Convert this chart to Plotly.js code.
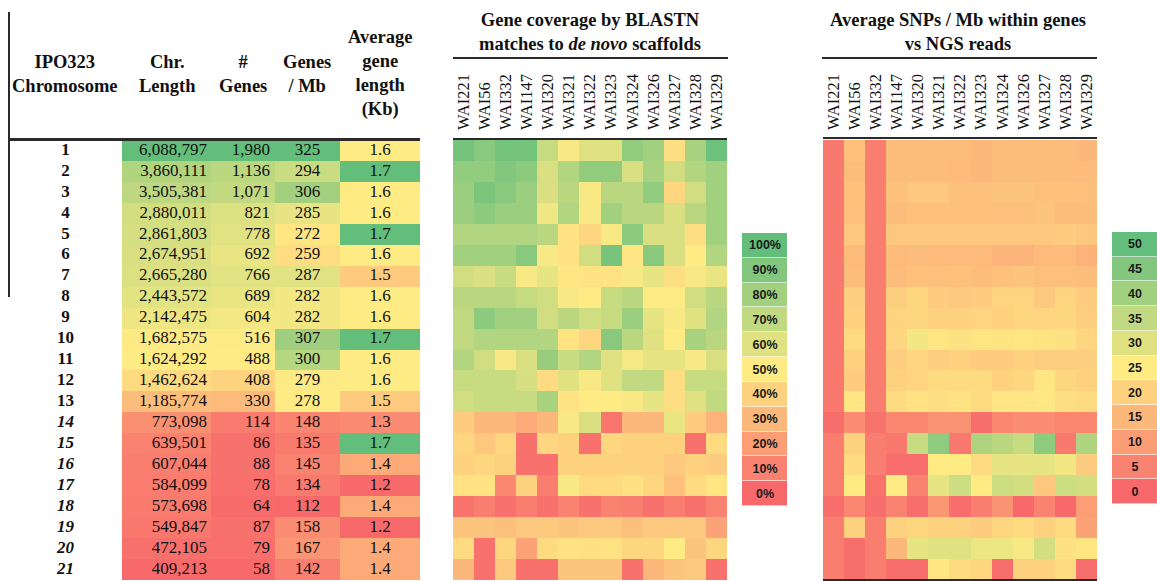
<!DOCTYPE html>
<html>
<head>
<meta charset="utf-8">
<script src="https://cdn.plot.ly/plotly-3.0.1.min.js"></script>
<style>html,body{margin:0;padding:0;background:#fff;}#chart{width:1157px;height:581px;}</style>
</head>
<body>
<div id="chart"></div>
<script>
// ---------------- DATA ----------------
const chromosomes = ['1','2','3','4','5','6','7','8','9','10','11','12','13','14','15','16','17','18','19','20','21'];
const dispensable = ['14','15','16','17','18','19','20','21'];
const chrLength = [6088797,3860111,3505381,2880011,2861803,2674951,2665280,2443572,2142475,1682575,1624292,1462624,1185774,773098,639501,607044,584099,573698,549847,472105,409213];
const numGenes = [1980,1136,1071,821,778,692,766,689,604,516,488,408,330,114,86,88,78,64,87,79,58];
const genesPerMb = [325,294,306,285,272,259,287,282,282,307,300,279,278,148,135,145,134,112,158,167,142];
const avgGeneLength = [1.6,1.7,1.6,1.6,1.7,1.6,1.5,1.6,1.6,1.7,1.6,1.6,1.5,1.3,1.7,1.4,1.2,1.4,1.2,1.4,1.4];

const strains = ['WAI221','WAI56','WAI332','WAI147','WAI320','WAI321','WAI322','WAI323','WAI324','WAI326','WAI327','WAI328','WAI329'];

// Gene coverage (%) by BLASTN matches to de novo scaffolds (rows = chromosomes, cols = strains)
const coverage = [
[95,88,95,95,68,52,60,60,85,80,45,78,97],
[85,85,90,87,62,75,85,85,62,78,65,75,80],
[82,92,88,82,62,72,52,72,72,85,42,65,80],
[82,87,82,82,55,75,52,80,72,72,62,72,80],
[75,75,75,75,72,47,42,52,87,62,62,45,80],
[80,80,80,88,52,47,65,93,48,88,62,50,75],
[65,62,68,52,58,48,47,47,52,58,45,52,57],
[72,72,72,68,65,52,50,68,72,50,50,65,72],
[70,87,80,80,65,72,65,68,82,58,52,60,75],
[70,75,75,75,75,47,42,88,72,60,50,78,72],
[75,65,52,62,83,68,75,60,53,58,58,52,62],
[68,68,68,63,44,60,52,60,70,70,45,68,68],
[65,68,68,68,78,47,50,50,52,58,45,60,70],
[38,30,30,25,30,52,62,5,30,30,57,38,28],
[42,36,42,3,42,40,3,42,40,40,40,3,44],
[40,42,40,3,3,40,40,40,40,40,37,40,38],
[47,47,12,40,8,52,44,44,46,42,34,44,48],
[4,8,3,8,3,10,3,10,8,3,8,3,10],
[35,35,33,37,37,35,37,37,33,37,37,37,22],
[44,3,42,22,44,47,46,47,42,42,50,35,42],
[30,3,37,3,3,35,35,35,3,30,35,37,3]
];

// Average SNPs / Mb within genes vs NGS reads
const snps = [
[3,17,4,16,16,16,16,15,16,16,16,16,15],
[3,16,4,16,16,16,15.5,15,16,16,16,16,16],
[3,17,4,17,18,18,17,16.5,17.5,17.5,17,17,16.5],
[3,16.5,4,16,17,17,17,17,16.5,16.5,17.5,16,16],
[3,18,4,18,18,18,18,18,18,18,18,19,18],
[3,15.5,4,15.5,16,15.5,15.5,15.5,14.5,14.5,15.5,15.5,14],
[3,16,4,16,17,16.5,17,16,17,17.5,16.5,16.5,16],
[3,19.5,4,19.5,21,19,18.5,19,20.5,20.5,18.5,20.5,19],
[3,20,4,20.5,21,20,20,20.5,20,21,20.5,21,19.5],
[3,22,4,21,27,24,23,24,23.5,24,23.5,23,21],
[3,20,4,19.5,20.5,19.5,20,19,19,20,19.5,19.5,19.5],
[3,19,4,20,20.5,22,22,22,20,21,24,21,20],
[3,24,4,22,23.5,22.5,23.5,22,24,24,24.5,22.5,22],
[1,7,2,6,6,8,8,1,6,7,7,6,6],
[4,20,4,3,34,43,3,38,36,34,43,3,38],
[4,22,4,1,1,25,25,22,29,29,29,27,19],
[4,25,2,25,5,29,33,25,33,32,18,33,32],
[1,6,1,5,1,9,1,4,8,0,5,0,10],
[4,20,4,20,21,20,20,19,21,22,20,22,11],
[4,1,4,15,29,30,30,28,28,26,32,23,24],
[4,1,4,1,1,24,22,21,1,20,20,22,1]
];

const coverageLegendValues = [100,90,80,70,60,50,40,30,20,10,0];
const coverageLegendLabels = ['100%','90%','80%','70%','60%','50%','40%','30%','20%','10%','0%'];
const snpLegendValues = [50,45,40,35,30,25,20,15,10,5,0];
const snpLegendLabels = ['50','45','40','35','30','25','20','15','10','5','0'];

// ---------------- STYLE / LAYOUT ----------------
const W = 1157, H = 581;
const px = v => v / W;
const py = v => 1 - v / H;
const RED = '#F8696B', YEL = '#FFEB84', GRN = '#63BE7B';
const SERIF = 'Liberation Serif, Times New Roman, serif';

function excelScale(values) {
  const s = [...values].sort((a, b) => a - b);
  const min = s[0], max = s[s.length - 1], med = s[Math.floor(s.length / 2)];
  return {cs: [[0, RED], [(med - min) / (max - min), YEL], [1, GRN]], zmin: min, zmax: max};
}
const fixedScale = [[0, RED], [0.5, YEL], [1, GRN]];

const rowIdx = chromosomes.map((c, i) => i + 1);
const col = arr => arr.map(v => [v]);

const traces = [];
// table colour columns
const tableCols = [
  {vals: chrLength, axis: 'x2', fmt: v => v.toLocaleString('en-US'), tx: 0.955, pos: 'middle left'},
  {vals: numGenes, axis: 'x3', fmt: v => v.toLocaleString('en-US'), tx: 0.92, pos: 'middle left'},
  {vals: genesPerMb, axis: 'x4', fmt: v => String(v), tx: 0.5, pos: 'middle center'},
  {vals: avgGeneLength, axis: 'x5', fmt: v => v.toFixed(1), tx: 0.5, pos: 'middle center'}
];
tableCols.forEach(c => {
  const sc = excelScale(c.vals);
  traces.push({type: 'heatmap', xaxis: c.axis, yaxis: 'y', x: [0.5], y: rowIdx, z: col(c.vals),
    colorscale: sc.cs, zmin: sc.zmin, zmax: sc.zmax, showscale: false, hoverinfo: 'z'});
  traces.push({type: 'scatter', mode: 'text', xaxis: c.axis, yaxis: 'y', x: c.vals.map(() => c.tx), y: rowIdx,
    text: c.vals.map(c.fmt), textposition: c.pos, cliponaxis: false, hoverinfo: 'skip',
    textfont: {family: SERIF, size: 17, color: '#111'}});
});
// chromosome labels
traces.push({type: 'scatter', mode: 'text', xaxis: 'x', yaxis: 'y', x: chromosomes.map(() => 0.5), y: rowIdx,
  text: chromosomes.map(c => dispensable.includes(c) ? '<b><i>' + c + '</i></b>' : '<b>' + c + '</b>'),
  textposition: 'middle center', cliponaxis: false, hoverinfo: 'skip',
  textfont: {family: SERIF, size: 17, color: '#111'}});
// heatmaps
traces.push({type: 'heatmap', xaxis: 'x6', yaxis: 'y', x: strains, y: rowIdx, z: coverage,
  colorscale: fixedScale, zmin: 0, zmax: 100, showscale: false});
traces.push({type: 'heatmap', xaxis: 'x7', yaxis: 'y', x: strains, y: rowIdx, z: snps,
  colorscale: fixedScale, zmin: 0, zmax: 50, showscale: false});
// legends
const legFont = {family: 'Liberation Sans, Arial, sans-serif', size: 12.5, color: '#1a1a1a', weight: 'bold'};
traces.push({type: 'heatmap', xaxis: 'x8', yaxis: 'y2', x: [0], y: coverageLegendValues.map((v, i) => i),
  z: col(coverageLegendValues), text: col(coverageLegendLabels), texttemplate: '%{text}', textfont: legFont,
  colorscale: fixedScale, zmin: 0, zmax: 100, showscale: false, xgap: 0, ygap: 0.6});
traces.push({type: 'heatmap', xaxis: 'x9', yaxis: 'y3', x: [0], y: snpLegendValues.map((v, i) => i),
  z: col(snpLegendValues), text: col(snpLegendLabels), texttemplate: '%{text}', textfont: legFont,
  colorscale: fixedScale, zmin: 0, zmax: 50, showscale: false, xgap: 0, ygap: 0.6});

const hidden = {showgrid: false, zeroline: false, showticklabels: false, ticks: '', showline: false, fixedrange: true};
const topAxis = {type: 'category', side: 'top', tickangle: -90, showgrid: false, zeroline: false, ticks: '',
  showline: false, fixedrange: true, ticklabelstandoff: 9,
  tickfont: {family: SERIF, size: 16.5, color: '#111'}};

const layout = {
  width: W, height: H, margin: {l: 0, r: 0, t: 0, b: 0}, paper_bgcolor: '#fff', plot_bgcolor: 'rgba(0,0,0,0)',
  showlegend: false,
  xaxis: Object.assign({domain: [px(9), px(122)], range: [0, 1], anchor: 'y'}, hidden),
  xaxis2: Object.assign({domain: [px(122), px(211)], range: [0, 1], anchor: 'y'}, hidden),
  xaxis3: Object.assign({domain: [px(211), px(275)], range: [0, 1], anchor: 'y'}, hidden),
  xaxis4: Object.assign({domain: [px(275), px(340)], range: [0, 1], anchor: 'y'}, hidden),
  xaxis5: Object.assign({domain: [px(340), px(420)], range: [0, 1], anchor: 'y'}, hidden),
  xaxis6: Object.assign({domain: [px(453), px(727)], anchor: 'y'}, topAxis),
  xaxis7: Object.assign({domain: [px(823), px(1097)], anchor: 'y'}, topAxis),
  xaxis8: Object.assign({domain: [px(742), px(787)], range: [-0.5, 0.5], anchor: 'y2'}, hidden),
  xaxis9: Object.assign({domain: [px(1112), 1], range: [-0.5, 0.5], anchor: 'y3'}, hidden),
  yaxis: Object.assign({domain: [py(580), py(140)], range: [21.5, 0.5], anchor: 'x'}, hidden),
  yaxis2: Object.assign({domain: [py(506), py(233)], range: [10.5, -0.5], anchor: 'x8'}, hidden),
  yaxis3: Object.assign({domain: [py(504), py(232)], range: [10.5, -0.5], anchor: 'x9'}, hidden),
  annotations: [],
  shapes: []
};

const hdrFont = {family: SERIF, size: 18.5, color: '#111', weight: 'bold'};
const headers = [
  {t: 'IPO323<br>Chromosome', x: 65},
  {t: 'Chr.<br>Length', x: 167},
  {t: '#<br>Genes', x: 243},
  {t: 'Genes<br>/ Mb', x: 307},
  {t: 'Average<br>gene<br>length<br>(Kb)', x: 380}
];
headers.forEach(h => layout.annotations.push({xref: 'paper', yref: 'paper', x: px(h.x), y: py(73.5),
  xanchor: 'center', yanchor: 'middle', text: '<b>' + h.t + '</b>', showarrow: false, font: hdrFont, align: 'center'}));
layout.annotations.push({xref: 'paper', yref: 'paper', x: px(590), y: py(31.5), xanchor: 'center', yanchor: 'middle',
  text: '<b>Gene coverage by BLASTN<br>matches to <i>de novo</i> scaffolds</b>', showarrow: false, font: hdrFont, align: 'center'});
layout.annotations.push({xref: 'paper', yref: 'paper', x: px(958), y: py(31.5), xanchor: 'center', yanchor: 'middle',
  text: '<b>Average SNPs / Mb within genes<br>vs NGS reads</b>', showarrow: false, font: hdrFont, align: 'center'});

const line = (x0, y0, x1, y1, w) => ({type: 'line', xref: 'paper', yref: 'paper', x0: px(x0), y0: py(y0), x1: px(x1), y1: py(y1),
  line: {color: '#2a2a2a', width: w}});
layout.shapes.push(line(9, 12, 9, 297, 2));
layout.shapes.push(line(9, 139.5, 420, 139.5, 3));
layout.shapes.push(line(453, 139, 727, 139, 2));
layout.shapes.push(line(823, 138, 1097, 138, 2));
layout.shapes.push(line(453, 58, 728, 58, 2));
layout.shapes.push(line(822, 58, 1097, 58, 2));
layout.shapes.push(line(823, 580, 1097, 580, 2));

Plotly.newPlot('chart', traces, layout, {displayModeBar: false, staticPlot: true});
</script>
</body>
</html>
